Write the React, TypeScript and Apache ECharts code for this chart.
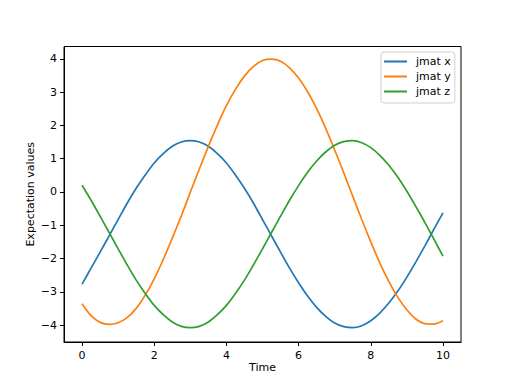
import React, { useEffect, useRef } from "react";
import * as echarts from "echarts";

const times = [
  0, 0.25, 0.5, 0.75, 1, 1.25, 1.5, 1.75, 2, 2.25, 2.5, 2.75, 3, 3.25, 3.5, 3.75, 4, 4.25, 4.5, 4.75, 5,
  5.25, 5.5, 5.75, 6, 6.25, 6.5, 6.75, 7, 7.25, 7.5, 7.75, 8, 8.25, 8.5, 8.75, 9, 9.25, 9.5, 9.75, 10,
];
const jmatX = [
  -2.77, -2.29, -1.81, -1.32, -0.83, -0.34, 0.11, 0.51, 0.87, 1.15, 1.37, 1.5, 1.54, 1.5, 1.37, 1.15, 0.87, 0.51, 0.11, -0.34, -0.83,
  -1.32, -1.81, -2.29, -2.73, -3.13, -3.47, -3.74, -3.94, -4.05, -4.08, -4.02, -3.87, -3.64, -3.34, -2.98, -2.56, -2.1, -1.62, -1.12, -0.63,
];
const jmatY = [
  -3.36, -3.72, -3.92, -3.98, -3.93, -3.78, -3.5, -3.1, -2.61, -2.03, -1.39, -0.72, -0.01, 0.69, 1.37, 2.01, 2.59, 3.08, 3.48, 3.77, 3.95,
  3.99, 3.93, 3.73, 3.42, 3.01, 2.5, 1.91, 1.26, 0.58, -0.13, -0.83, -1.5, -2.13, -2.69, -3.17, -3.54, -3.82, -3.96, -3.97, -3.87,
];
const jmatZ = [
  0.2, -0.25, -0.73, -1.22, -1.71, -2.19, -2.65, -3.05, -3.41, -3.69, -3.91, -4.04, -4.08, -4.04, -3.91, -3.69, -3.41, -3.05, -2.65, -2.19, -1.71,
  -1.22, -0.73, -0.25, 0.19, 0.59, 0.93, 1.2, 1.4, 1.51, 1.54, 1.48, 1.33, 1.1, 0.8, 0.44, 0.02, -0.44, -0.92, -1.42, -1.93,
];
const xTicks = [0, 2, 4, 6, 8, 10];
const yTicks = [-4, -3, -2, -1, 0, 1, 2, 3, 4];
const seriesNames = ["jmat x", "jmat y", "jmat z"];
const colors = ["#1f77b4", "#ff7f0e", "#2ca02c"];

const fmt = (v: number) => (v < 0 ? "\u2212" + Math.abs(v) : String(v));

export default function App() {
  const ref = useRef<HTMLDivElement>(null);
  useEffect(() => {
    if (!ref.current) return;
    const chart = echarts.init(ref.current, null, { renderer: "svg" });
    const font = "DejaVu Sans";
    const all = [jmatX, jmatY, jmatZ];
    chart.setOption({
      animation: false,
      backgroundColor: "#fff",
      textStyle: { fontFamily: font },
      grid: {
        left: 64,
        right: 51,
        top: 46.5,
        bottom: 42,
        show: true,
        borderColor: "#000",
        borderWidth: 1,
        backgroundColor: "transparent",
      },
      legend: {
        data: seriesNames,
        orient: "vertical",
        left: 381,
        top: 52,
        icon: "rect",
        itemWidth: 23,
        itemHeight: 2,
        itemGap: 2,
        padding: [3, 4, 5, 3],
        borderColor: "#d0d0d0",
        borderWidth: 1,
        borderRadius: 3,
        backgroundColor: "rgba(255,255,255,0.8)",
        textStyle: { fontFamily: font, fontSize: 11, color: "#000", lineHeight: 13, padding: [0, 0, 0, 4] },
      },
      xAxis: {
        type: "value",
        min: -0.5,
        max: 10.5,
        name: "Time",
        nameLocation: "middle",
        nameGap: 20,
        nameMoveOverlap: false,
        nameTextStyle: { fontFamily: font, fontSize: 11, color: "#000" },
        splitLine: { show: false },
        axisLine: { show: true, onZero: false, lineStyle: { color: "#000", width: 1 } },
        axisTick: { show: true, customValues: xTicks, length: 4, lineStyle: { color: "#000" } },
        axisLabel: {
          customValues: xTicks,
          formatter: fmt,
          fontFamily: font,
          fontSize: 11,
          color: "#000",
          margin: 8,
        },
      },
      yAxis: {
        type: "value",
        min: -4.51,
        max: 4.37,
        name: "Expectation values",
        nameLocation: "middle",
        nameGap: 28,
        nameMoveOverlap: false,
        nameTextStyle: { fontFamily: font, fontSize: 11, color: "#000" },
        splitLine: { show: false },
        axisLine: { show: true, onZero: false, lineStyle: { color: "#000", width: 1 } },
        axisTick: { show: true, customValues: yTicks, length: 4, lineStyle: { color: "#000" } },
        axisLabel: {
          customValues: yTicks,
          formatter: fmt,
          fontFamily: font,
          fontSize: 11,
          color: "#000",
          margin: 7,
        },
      },
      series: seriesNames.map((name, i) => ({
        name,
        type: "line",
        smooth: 0.25,
        showSymbol: false,
        symbol: "none",
        color: colors[i],
        lineStyle: { width: 1.7, color: colors[i] },
        data: times.map((t, j) => [t, all[i][j]]),
      })),
    });
    return () => chart.dispose();
  }, []);
  return (
    <div
      ref={ref}
      style={{ position: "absolute", left: 0, top: 0, width: 512, height: 384, background: "#fff" }}
    />
  );
}
